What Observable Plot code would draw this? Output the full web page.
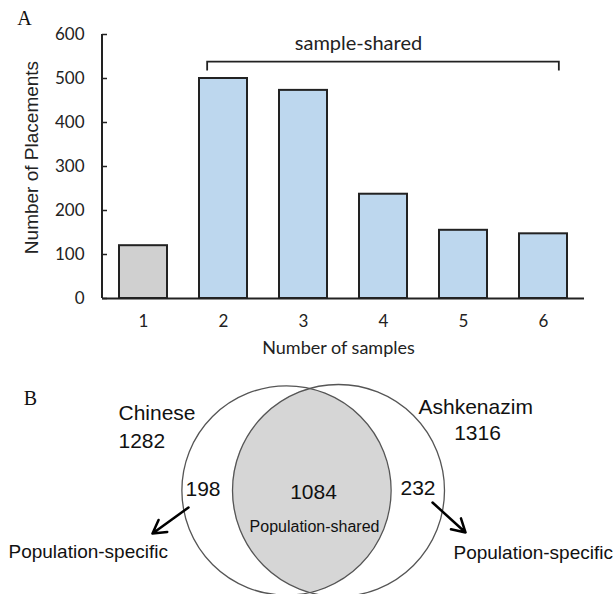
<!DOCTYPE html>
<html><head><meta charset="utf-8">
<script src="https://cdn.jsdelivr.net/npm/d3@7"></script>
<script src="https://cdn.jsdelivr.net/npm/@observablehq/plot@0.6"></script>
<style>
body{margin:0;background:#fff;}
#chart{width:614px;}
#chart svg{display:block;}
</style></head><body><div id="chart"></div>
<script>
// ---- Panel A data ----
const samples = ["1", "2", "3", "4", "5", "6"];
const placements = [120, 500, 473, 237, 155, 147];
const barGroup = ["unique", "shared", "shared", "shared", "shared", "shared"];
const yTicks = [0, 100, 200, 300, 400, 500, 600];
const bracketLabel = "sample-shared";
const bracketFrom = "2";
const bracketTo = "6";

// ---- Panel B data ----
const populations = ["Chinese", "Ashkenazim"];
const popTotals = [1282, 1316];
const popSpecific = [198, 232];
const sharedCount = 1084;
const sharedLabel = "Population-shared";
const specificLabel = "Population-specific";

// ---- Panel A ----
const bars = samples.map((s, i) => ({sample: s, count: placements[i], group: barGroup[i]}));

function yAxisLine(index, scales, values, dims) {
  const g = d3.create("svg:g");
  g.append("line")
    .attr("x1", dims.marginLeft).attr("x2", dims.marginLeft)
    .attr("y1", scales.y(yTicks[yTicks.length - 1])).attr("y2", scales.y(0))
    .attr("stroke", "#222").attr("stroke-width", 2);
  return g.node();
}

function bracket(index, scales) {
  const x = scales.x, y = scales.y, bw = x.bandwidth();
  const xl = x(bracketFrom) + bw * 0.17, xr = x(bracketTo) + bw * 0.83;
  const yt = y(537), yb = y(517);
  return d3.create("svg:path")
    .attr("d", `M${xl},${yb}V${yt}H${xr}V${yb}`)
    .attr("fill", "none").attr("stroke", "#222").attr("stroke-width", 1.8)
    .node();
}

const plotA = Plot.plot({
  width: 614, height: 370,
  marginLeft: 102, marginRight: 30, marginTop: 34, marginBottom: 72,
  x: {domain: samples, paddingInner: 0.4, paddingOuter: 0.2, label: null},
  y: {domain: [0, 600], label: null},
  color: {domain: ["unique", "shared"], range: ["#d0d0d0", "#bdd7ee"]},
  style: {fontFamily: "Lato", fontSize: "17px", color: "#222", background: "white"},
  marks: [
    Plot.barY(bars, {x: "sample", y: "count", fill: "group", stroke: "#222", strokeWidth: 2}),
    Plot.ruleY([0], {stroke: "#222", strokeWidth: 2}),
    yAxisLine,
    Plot.tickY(yTicks, {y: d => d, insetRight: 477, stroke: "#222", strokeWidth: 1.5}),
    Plot.axisX({tickSize: 0, tickPadding: 16, fontSize: 17, label: null}),
    Plot.axisY(yTicks, {tickSize: 0, tickPadding: 18, fontSize: 17, label: null}),
    bracket,
    Plot.text([bracketLabel], {x: () => "4", y: () => 580, dx: -25, fontSize: 20, fill: "#222"}),
    Plot.text(["Number of samples"], {frameAnchor: "bottom", lineAnchor: "middle", textAnchor: "middle", dx: -5, dy: 50, fontSize: 18, fill: "#222"}),
    Plot.text(["Number of Placements"], {frameAnchor: "left", textAnchor: "middle", lineAnchor: "middle", rotate: -90, dx: -71, dy: -9, fontFamily: "Liberation Sans", fontSize: 19, fill: "#222"}),
    Plot.text(["A"], {frameAnchor: "top-left", textAnchor: "middle", lineAnchor: "middle", dx: -78, dy: -16, fontFamily: "Liberation Serif", fontSize: 20, fill: "#111"})
  ]
});

// ---- Panel B (Venn) ----
// layout (pixel coordinates within the panel)
const centers = [{cx: 286, cy: 120}, {cx: 338, cy: 120}];
const circles = populations.map((p, i) => ({name: p, total: popTotals[i], ...centers[i]}));

function lens(index, scales) {
  const {x, y, r} = scales;
  const c1 = {x: x(centers[0].cx), y: y(centers[0].cy), r: r(popTotals[0])};
  const c2 = {x: x(centers[1].cx), y: y(centers[1].cy), r: r(popTotals[1])};
  const d = c2.x - c1.x;
  const a = (c1.r * c1.r - c2.r * c2.r + d * d) / (2 * d);
  const h = Math.sqrt(c1.r * c1.r - a * a);
  const px = c1.x + a;
  return d3.create("svg:path")
    .attr("d", `M${px},${c1.y - h}A${c2.r},${c2.r} 0 0 0 ${px},${c1.y + h}A${c1.r},${c1.r} 0 0 0 ${px},${c1.y - h}Z`)
    .attr("fill", "#d6d6d6")
    .node();
}

const labels = [
  {text: populations[0], x: 118, y: 43, anchor: "start", size: 21},
  {text: String(popTotals[0]), x: 118, y: 71, anchor: "start", size: 21},
  {text: String(popSpecific[0]), x: 185, y: 119, anchor: "start", size: 21},
  {text: String(sharedCount), x: 313, y: 122, anchor: "middle", size: 21},
  {text: sharedLabel, x: 314, y: 156, anchor: "middle", size: 16},
  {text: String(popSpecific[1]), x: 400, y: 118, anchor: "start", size: 21},
  {text: populations[1], x: 418, y: 37, anchor: "start", size: 21},
  {text: String(popTotals[1]), x: 477, y: 63, anchor: "middle", size: 21},
  {text: specificLabel, x: 8, y: 181, anchor: "start", size: 19},
  {text: specificLabel, x: 453, y: 182, anchor: "start", size: 19}
];
const arrows = [
  {x1: 188, y1: 137, x2: 152, y2: 163},
  {x1: 432, y1: 132, x2: 465, y2: 162}
];

const plotB = Plot.plot({
  width: 614, height: 224, margin: 0,
  x: {domain: [0, 614], range: [0, 614], axis: null},
  y: {domain: [0, 224], range: [0, 224], axis: null},
  r: {type: "sqrt", domain: [0, popTotals[1]], range: [0, 106]},
  style: {fontFamily: "Liberation Sans", background: "white"},
  marks: [
    lens,
    Plot.dot(circles, {x: "cx", y: "cy", r: "total", fill: "none", stroke: "#555", strokeWidth: 1.3}),
    Plot.text(labels, {x: "x", y: "y", text: "text", textAnchor: "start", fontSize: 21, fill: "#111",
      filter: d => d.anchor === "start" && d.size === 21}),
    Plot.text(labels, {x: "x", y: "y", text: "text", textAnchor: "middle", fontSize: 21, fill: "#111",
      filter: d => d.anchor === "middle" && d.size === 21}),
    Plot.text(labels, {x: "x", y: "y", text: "text", textAnchor: "middle", fontSize: 16, fill: "#111",
      filter: d => d.size === 16}),
    Plot.text(labels, {x: "x", y: "y", text: "text", textAnchor: "start", fontSize: 19, fill: "#111",
      filter: d => d.size === 19}),
    Plot.arrow(arrows, {x1: "x1", y1: "y1", x2: "x2", y2: "y2", stroke: "#000", strokeWidth: 2.5, headLength: 11}),
    Plot.text(["B"], {frameAnchor: "top-left", dx: 30, dy: 28, textAnchor: "middle", lineAnchor: "middle", fontFamily: "Liberation Serif", fontSize: 20, fill: "#111"})
  ]
});

const root = document.getElementById("chart");
root.append(plotA, plotB);
</script>
</body></html>
